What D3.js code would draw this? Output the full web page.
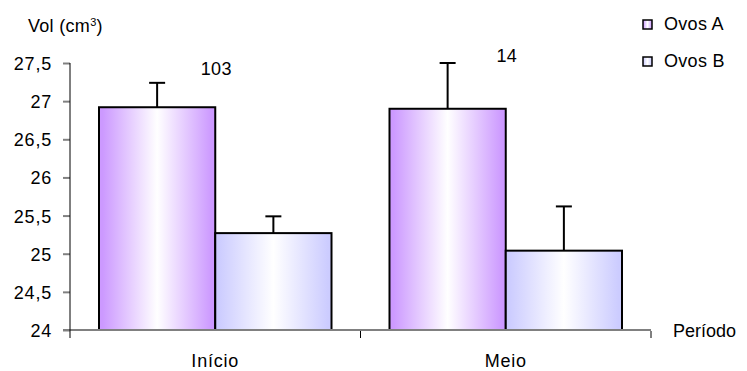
<!DOCTYPE html>
<html>
<head>
<meta charset="utf-8">
<script src="https://cdn.jsdelivr.net/npm/d3@7"></script>
<style>
  body { margin: 0; background: #fff; }
  text { font-family: "Liberation Sans", Arial, sans-serif; font-size: 18px; fill: #000; letter-spacing: 0.3px; }
</style>
</head>
<body>
<svg id="chart" width="747" height="371"></svg>
<script>
const categories = ["Início", "Meio"];
const series = ["Ovos A", "Ovos B"];
const ovosA = [26.92, 26.9];
const ovosB = [25.27, 25.04];
const errA = [0.32, 0.6];
const errB = [0.22, 0.58];
const nLabels = ["103", "14"];
const yTicks = [24, 24.5, 25, 25.5, 26, 26.5, 27, 27.5];

const svg = d3.select("#chart");
const margin = { top: 63, left: 70, right: 96, bottom: 41 };
const width = 747 - margin.left - margin.right;
const height = 371 - margin.top - margin.bottom;

const g = svg.append("g").attr("transform", `translate(${margin.left}, ${margin.top})`);

const x = d3.scaleBand().domain(categories).range([0, width]).paddingInner(0).paddingOuter(0);
const xInner = d3.scaleBand().domain(series).range([29, x.bandwidth() - 29]);
const y = d3.scaleLinear().domain([24, 27.5]).range([height, 0]);

const colours = { "Ovos A": "#cc99ff", "Ovos B": "#ccccff" };

// gradients, edge -> white -> edge
const defs = svg.append("defs");
series.forEach((s, i) => {
  const grad = defs.append("linearGradient").attr("id", "grad" + i).attr("x1", "0%").attr("x2", "100%");
  grad.append("stop").attr("offset", "3%").attr("stop-color", colours[s]);
  grad.append("stop").attr("offset", "50%").attr("stop-color", "#fff");
  grad.append("stop").attr("offset", "97%").attr("stop-color", colours[s]);
});

// y axis
const yAxis = g.append("g").call(
  d3.axisLeft(y).tickValues(yTicks).tickSize(7).tickPadding(11)
    .tickFormat((d) => String(d).replace(".", ","))
);
yAxis.select(".domain").remove();
yAxis.selectAll(".tick line").attr("stroke", "#808080").attr("stroke-width", 2);
yAxis.selectAll(".tick text").style("font-size", "18px").style("letter-spacing", "0.8px").attr("dy", "0.36em");

const data = categories.map((c, i) => ({
  cat: c,
  vals: [
    { s: "Ovos A", v: ovosA[i], e: errA[i] },
    { s: "Ovos B", v: ovosB[i], e: errB[i] },
  ],
}));

const groups = g.selectAll(".grp").data(data).enter().append("g")
  .attr("class", "grp")
  .attr("transform", (d) => `translate(${x(d.cat)}, 0)`);

// error bars (drawn under bars)
const eb = groups.selectAll(".err").data((d) => d.vals).enter().append("g").attr("class", "err");
eb.append("line")
  .attr("x1", (d) => xInner(d.s) + xInner.bandwidth() / 2)
  .attr("x2", (d) => xInner(d.s) + xInner.bandwidth() / 2)
  .attr("y1", (d) => y(d.v))
  .attr("y2", (d) => y(d.v + d.e))
  .attr("stroke", "#000").attr("stroke-width", 2);
eb.append("line")
  .attr("x1", (d) => xInner(d.s) + xInner.bandwidth() / 2 - 8)
  .attr("x2", (d) => xInner(d.s) + xInner.bandwidth() / 2 + 8)
  .attr("y1", (d) => y(d.v + d.e))
  .attr("y2", (d) => y(d.v + d.e))
  .attr("stroke", "#000").attr("stroke-width", 2);

groups.selectAll("rect").data((d) => d.vals).enter().append("rect")
  .attr("x", (d) => xInner(d.s))
  .attr("y", (d) => y(d.v))
  .attr("width", xInner.bandwidth())
  .attr("height", (d) => y(24) - y(d.v))
  .attr("fill", (d) => `url(#grad${series.indexOf(d.s)})`)
  .attr("stroke", "#000")
  .attr("stroke-width", 2);

// x axis
g.append("line").attr("x1", -7).attr("x2", width).attr("y1", height).attr("y2", height)
  .attr("stroke", "#808080").attr("stroke-width", 2);
g.append("line").attr("x1", 0).attr("x2", 0).attr("y1", 0).attr("y2", height + 8)
  .attr("stroke", "#000").attr("stroke-width", 1);
const xt = g.append("g").attr("transform", `translate(0, ${height})`);
const bounds = categories.map((c) => x(c)).concat([width]);
xt.selectAll(".xtick").data(bounds.slice(1)).enter().append("line")
  .attr("x1", (d) => d).attr("x2", (d) => d).attr("y1", 1).attr("y2", 8)
  .attr("stroke", "#000").attr("stroke-width", 1);
xt.selectAll(".xlab").data(categories).enter().append("text")
  .attr("x", (d) => x(d) + x.bandwidth() / 2)
  .attr("y", 37)
  .attr("text-anchor", "middle")
  .style("letter-spacing", "0.8px")
  .text((d) => d);

// n labels
g.selectAll(".nlab").data(nLabels).enter().append("text")
  .attr("x", (d, i) => x(categories[i]) + x.bandwidth() / 2 + 1)
  .attr("y", (d, i) => y(data[i].vals[0].v + data[i].vals[0].e) - [8, 1][i])
  .attr("text-anchor", "middle")
  .text((d) => d);

// axis titles
const t = svg.append("text").attr("x", 28).attr("y", 32);
t.append("tspan").text("Vol (cm");
t.append("tspan").attr("dy", -6).style("font-size", "11px").text("3");
t.append("tspan").attr("dy", 6).text(")");
svg.append("text").attr("x", 673).attr("y", 337).style("letter-spacing", "0px").text("Período");

// legend
const leg = svg.append("g").attr("transform", "translate(643, 20)");
const li = leg.selectAll("g").data(series).enter().append("g")
  .attr("transform", (d, i) => `translate(0, ${i * 37})`);
li.append("rect").attr("width", 9).attr("height", 9)
  .attr("fill", (d, i) => `url(#grad${i})`)
  .attr("stroke", "#000").attr("stroke-width", 1.5);
li.append("text").attr("x", 21).attr("y", 10).text((d) => d);
</script>
</body>
</html>
